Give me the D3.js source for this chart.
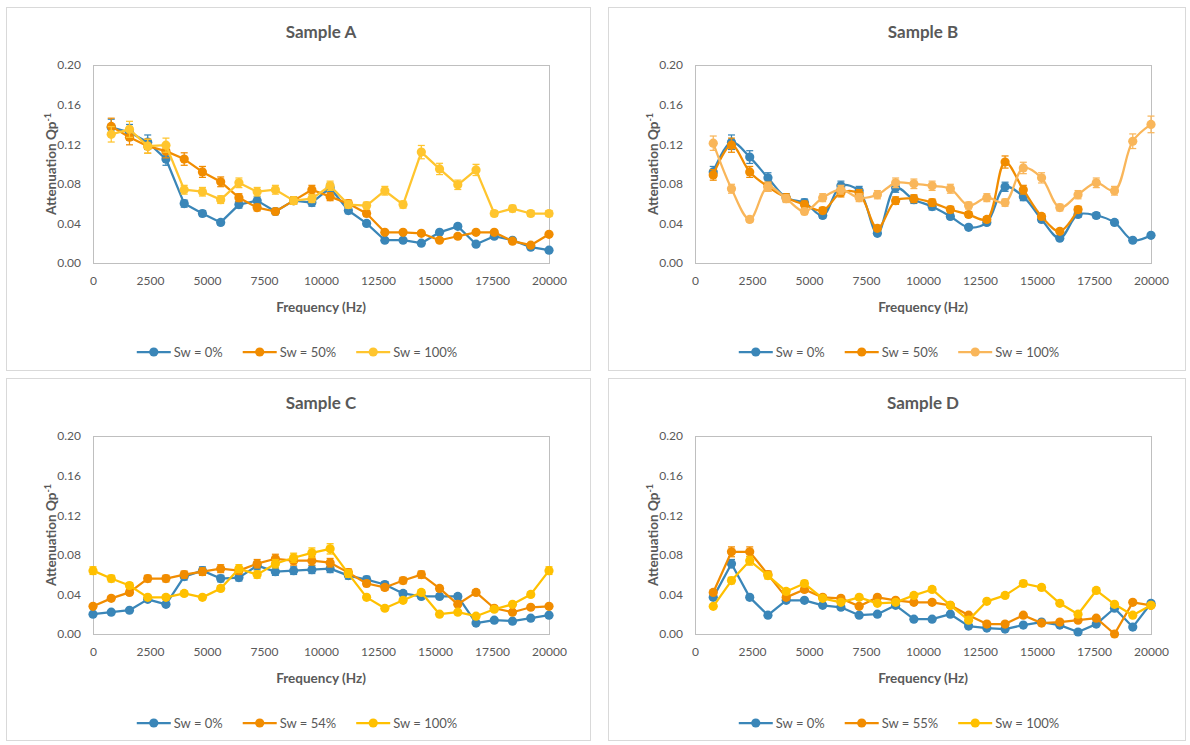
<!DOCTYPE html>
<html>
<head>
<meta charset="utf-8">
<script src="https://cdn.jsdelivr.net/npm/d3@7"></script>
<style>
  body { margin: 0; background: #fff; }
  text { font-family: Lato, "Liberation Sans", sans-serif; }
</style>
</head>
<body>
<svg id="chart" width="1190" height="745"></svg>
<script>
// frequencies (Hz)
const freq800 = [800, 1600, 2400, 3200, 4000, 4800, 5600, 6400, 7200, 8000, 8800, 9600, 10400,
  11200, 12000, 12800, 13600, 14400, 15200, 16000, 16800, 17600, 18400, 19200, 20000];
const freq0 = [0, 800, 1600, 2400, 3200, 4000, 4800, 5600, 6400, 7200, 8000, 8800, 9600, 10400,
  11200, 12000, 12800, 13600, 14400, 15200, 16000, 16800, 17600, 18400, 19200, 20000];
const freqB50 = [800, 1600, 2400, 3200, 4000, 4800, 5600, 6400, 7200, 8000, 8800, 9600, 10400,
  11200, 12000, 12800, 13600, 14400, 15200, 16000, 16800];

// Sample A
const sampleA_sw0 = [0.137, 0.132, 0.122, 0.105, 0.060, 0.050, 0.041, 0.059, 0.063, 0.052, 0.063, 0.061, 0.076,
  0.053, 0.040, 0.023, 0.023, 0.020, 0.031, 0.037, 0.019, 0.027, 0.023, 0.016, 0.013];
const sampleA_sw50 = [0.138, 0.127, 0.118, 0.113, 0.105, 0.092, 0.082, 0.066, 0.056, 0.052, 0.063, 0.074, 0.067,
  0.060, 0.050, 0.031, 0.031, 0.030, 0.023, 0.027, 0.031, 0.031, 0.022, 0.018, 0.029];
const sampleA_sw100 = [0.130, 0.135, 0.118, 0.119, 0.074, 0.072, 0.064, 0.081, 0.072, 0.074, 0.063, 0.065, 0.078,
  0.059, 0.058, 0.073, 0.059, 0.112, 0.095, 0.079, 0.094, 0.050, 0.055, 0.050, 0.050];

// Sample B
const sampleB_sw0 = [0.092, 0.122, 0.107, 0.086, 0.066, 0.061, 0.048, 0.078, 0.073, 0.030, 0.076, 0.064, 0.057,
  0.047, 0.036, 0.041, 0.077, 0.067, 0.044, 0.025, 0.049, 0.048, 0.041, 0.023, 0.028];
const sampleB_sw50 = [0.089, 0.119, 0.092, 0.077, 0.066, 0.059, 0.053, 0.071, 0.070, 0.035, 0.063, 0.065, 0.061,
  0.054, 0.049, 0.044, 0.102, 0.074, 0.047, 0.032, 0.054];
const sampleB_sw100 = [0.121, 0.075, 0.044, 0.077, 0.065, 0.052, 0.066, 0.074, 0.066, 0.069, 0.081, 0.080, 0.078,
  0.075, 0.058, 0.066, 0.061, 0.096, 0.086, 0.056, 0.069, 0.081, 0.073, 0.123, 0.140];

// Sample C
const sampleC_sw0 = [0.020, 0.022, 0.024, 0.035, 0.030, 0.058, 0.064, 0.056, 0.057, 0.069, 0.063, 0.064, 0.065, 0.066,
  0.059, 0.055, 0.050, 0.041, 0.038, 0.038, 0.038, 0.011, 0.014, 0.013, 0.016, 0.019];
const sampleC_sw54 = [0.028, 0.036, 0.042, 0.056, 0.056, 0.060, 0.063, 0.066, 0.064, 0.071, 0.076, 0.074, 0.074, 0.072,
  0.062, 0.051, 0.047, 0.054, 0.060, 0.046, 0.030, 0.042, 0.026, 0.022, 0.027, 0.028];
const sampleC_sw100 = [0.064, 0.056, 0.049, 0.037, 0.037, 0.041, 0.037, 0.046, 0.066, 0.060, 0.071, 0.077, 0.082, 0.086,
  0.061, 0.037, 0.026, 0.034, 0.042, 0.020, 0.022, 0.018, 0.025, 0.030, 0.040, 0.064];

// Sample D
const sampleD_sw0 = [0.037, 0.071, 0.037, 0.019, 0.034, 0.034, 0.029, 0.027, 0.019, 0.020, 0.029, 0.015, 0.015,
  0.020, 0.008, 0.006, 0.005, 0.009, 0.012, 0.009, 0.002, 0.010, 0.026, 0.007, 0.031];
const sampleD_sw55 = [0.042, 0.083, 0.083, 0.060, 0.037, 0.045, 0.037, 0.036, 0.028, 0.037, 0.034, 0.032, 0.032,
  0.029, 0.019, 0.010, 0.010, 0.019, 0.011, 0.012, 0.014, 0.016, 0.000, 0.032, 0.029];
const sampleD_sw100 = [0.028, 0.054, 0.074, 0.059, 0.043, 0.051, 0.036, 0.032, 0.037, 0.031, 0.032, 0.039, 0.045,
  0.029, 0.014, 0.033, 0.039, 0.051, 0.047, 0.031, 0.020, 0.044, 0.030, 0.019, 0.029];

// axis ticks
const xTicks = [0, 2500, 5000, 7500, 10000, 12500, 15000, 17500, 20000];
const yTicks = [0, 0.04, 0.08, 0.12, 0.16, 0.20];
const errorPct = 0.06; // percentage error bars

const blue = "#3a86b8", orange = "#f18c00", gold = "#ffc52e", gold2 = "#ffc000", lightOrange = "#f9b65a";

const panels = [
  { title: "Sample A", x: 6, y: 7, w: 584, h: 363, smooth: false, series: [
    { name: "Sw = 0%", color: blue, freq: freq800, values: sampleA_sw0 },
    { name: "Sw = 50%", color: orange, freq: freq800, values: sampleA_sw50 },
    { name: "Sw = 100%", color: gold, freq: freq800, values: sampleA_sw100 }] },
  { title: "Sample B", x: 608, y: 7, w: 577, h: 363, smooth: true, series: [
    { name: "Sw = 0%", color: blue, freq: freq800, values: sampleB_sw0 },
    { name: "Sw = 50%", color: orange, freq: freqB50, values: sampleB_sw50 },
    { name: "Sw = 100%", color: lightOrange, freq: freq800, values: sampleB_sw100 }] },
  { title: "Sample C", x: 6, y: 378, w: 584, h: 362, smooth: false, series: [
    { name: "Sw = 0%", color: blue, freq: freq0, values: sampleC_sw0 },
    { name: "Sw = 54%", color: orange, freq: freq0, values: sampleC_sw54 },
    { name: "Sw = 100%", color: gold2, freq: freq0, values: sampleC_sw100 }] },
  { title: "Sample D", x: 608, y: 378, w: 577, h: 362, smooth: false, series: [
    { name: "Sw = 0%", color: blue, freq: freq800, values: sampleD_sw0 },
    { name: "Sw = 55%", color: orange, freq: freq800, values: sampleD_sw55 },
    { name: "Sw = 100%", color: gold2, freq: freq800, values: sampleD_sw100 }] }
];

const svg = d3.select("#chart");
const plotLeft = 87, plotTop = 58, plotW = 456, plotH = 198;
const textColor = "#595959";

function drawPanel(p) {
  const g = svg.append("g").attr("transform", `translate(${p.x}, ${p.y})`);

  // panel frame
  g.append("rect")
    .attr("x", 0.5).attr("y", 0.5)
    .attr("width", p.w).attr("height", p.h)
    .attr("fill", "#fff")
    .attr("stroke", "#d9d9d9");

  // title
  g.append("text")
    .attr("x", plotLeft + plotW / 2)
    .attr("y", 31)
    .attr("text-anchor", "middle")
    .attr("font-size", 17)
    .attr("font-weight", "bold")
    .attr("fill", textColor)
    .text(p.title);

  const plot = g.append("g").attr("transform", `translate(${plotLeft}, ${plotTop})`);

  const xScale = d3.scaleLinear().domain([0, 20000]).range([0, plotW]);
  const yScale = d3.scaleLinear().domain([0, 0.2]).range([plotH, 0]);

  // plot area border
  plot.append("rect")
    .attr("x", 0.5).attr("y", 0.5)
    .attr("width", plotW).attr("height", plotH)
    .attr("fill", "none")
    .attr("stroke", "#bfbfbf");

  // axes (labels only)
  const yAxis = plot.append("g")
    .call(d3.axisLeft(yScale).tickValues(yTicks).tickSize(0).tickPadding(12).tickFormat(d3.format(".2f")));
  const xAxis = plot.append("g")
    .attr("transform", `translate(0, ${plotH})`)
    .call(d3.axisBottom(xScale).tickValues(xTicks).tickSize(0).tickPadding(13).tickFormat(d3.format("d")));
  [xAxis, yAxis].forEach(ax => {
    ax.select(".domain").remove();
    ax.selectAll("text")
      .attr("fill", textColor)
      .style("font-size", "12px")
      .style("font-family", "Lato, 'Liberation Sans', sans-serif");
  });

  // axis titles
  plot.append("text")
    .attr("x", plotW / 2)
    .attr("y", plotH + 49)
    .attr("text-anchor", "middle")
    .attr("font-size", 13.5)
    .attr("font-weight", "bold")
    .attr("fill", textColor)
    .text("Frequency (Hz)");

  const yTitle = plot.append("text")
    .attr("transform", `translate(-37, ${plotH / 2}) rotate(-90)`)
    .attr("text-anchor", "middle")
    .attr("font-size", 13.5)
    .attr("font-weight", "bold")
    .attr("fill", textColor);
  yTitle.append("tspan").text("Attenuation Qp");
  yTitle.append("tspan").attr("font-size", 9).attr("dy", -5).text("-1");

  const line = d3.line()
    .x(d => xScale(d.f))
    .y(d => yScale(d.v))
    .curve(p.smooth ? d3.curveCatmullRom.alpha(0.5) : d3.curveLinear);

  p.series.forEach(s => {
    const pts = s.values.map((v, i) => ({ f: s.freq[i], v: v }));

    plot.append("path")
      .datum(pts)
      .attr("d", line)
      .attr("fill", "none")
      .attr("stroke", s.color)
      .attr("stroke-width", 2.25)
      .attr("stroke-linejoin", "round");

    // error bars
    const eb = plot.append("g").attr("stroke", s.color).attr("stroke-width", 1.25);
    pts.forEach(d => {
      const cx = xScale(d.f);
      const lo = yScale(d.v * (1 - errorPct)), hi = yScale(d.v * (1 + errorPct));
      eb.append("line").attr("x1", cx).attr("x2", cx).attr("y1", lo).attr("y2", hi);
      eb.append("line").attr("x1", cx - 3.5).attr("x2", cx + 3.5).attr("y1", lo).attr("y2", lo);
      eb.append("line").attr("x1", cx - 3.5).attr("x2", cx + 3.5).attr("y1", hi).attr("y2", hi);
    });

    plot.selectAll(null)
      .data(pts)
      .join("circle")
      .attr("cx", d => xScale(d.f))
      .attr("cy", d => yScale(d.v))
      .attr("r", 4.6)
      .attr("fill", s.color);
  });

  // legend
  const legend = g.append("g");
  let lx = 0;
  p.series.forEach(s => {
    const it = legend.append("g").attr("transform", `translate(${lx}, 0)`);
    it.append("line").attr("x1", 0).attr("x2", 34).attr("y1", 0).attr("y2", 0)
      .attr("stroke", s.color).attr("stroke-width", 2.25);
    it.append("circle").attr("cx", 17).attr("cy", 0).attr("r", 4.6).attr("fill", s.color);
    const t = it.append("text")
      .attr("x", 37).attr("y", 4.5)
      .attr("font-size", 13)
      .attr("fill", textColor)
      .text(s.name);
    lx += 37 + t.node().getComputedTextLength() + 20;
  });
  const legendW = lx - 20;
  legend.attr("transform", `translate(${plotLeft + plotW / 2 - legendW / 2 - 24}, 345)`);
}

panels.forEach(drawPanel);
</script>
</body>
</html>
